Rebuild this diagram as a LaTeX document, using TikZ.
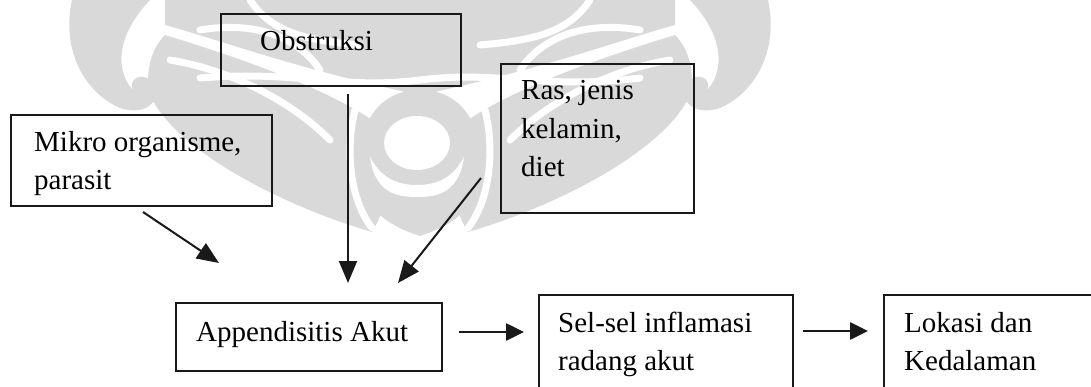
\documentclass[tikz,border=0pt]{standalone}
\usepackage{fontspec}
\setmainfont{Liberation Serif}
\usetikzlibrary{arrows.meta}
\definecolor{wm}{RGB}{217,217,217}
\definecolor{ink}{RGB}{25,25,25}
\tikzset{
  box/.style={draw=ink, line width=2pt, rectangle, inner sep=0pt, anchor=north west},
  lbl/.style={anchor=base west, inner sep=0pt, font=\fontsize{29}{38}\selectfont, text=black},
  arr/.style={draw=ink, line width=2pt, -{Triangle[length=22pt,width=18pt]}},
  harr/.style={draw=ink, line width=2.6pt, -{Triangle[length=18pt,width=17pt]}},
  wmband/.style={draw=white, line width=7pt, line cap=round},
}
\begin{document}
\begin{tikzpicture}[x=1pt,y=-1pt]
\path[use as bounding box, clip] (0,0) rectangle (1091,387);
\fill[white] (0,0) rectangle (1091,387);
% ---- watermark (approximate) ----
\foreach \s in {1,-1}{
\begin{scope}[shift={(420,0)}, xscale=\s, shift={(-420,0)}]
  \fill[wm] (72,0) .. controls (62,45) and (80,90) .. (120,108) .. controls (150,118) and (165,95) .. (150,80)
     .. controls (140,72) and (128,80) .. (133,90) .. controls (118,75) and (112,40) .. (150,0) -- cycle;
  \fill[wm] (150,95) .. controls (175,150) and (280,205) .. (372,232) .. controls (392,200) and (392,160) .. (372,120)
     .. controls (320,85) and (230,55) .. (165,35) .. controls (150,50) and (145,75) .. cycle;
  \fill[wm] (165,0) -- (420,0) -- (420,95) .. controls (300,70) and (220,40) .. (165,25) -- cycle;
  \draw[wmband] (170,60) .. controls (230,70) and (290,100) .. (330,140);
  \draw[wmband] (200,30) .. controls (260,20) and (300,40) .. (320,70);
  \draw[wmband] (250,0) .. controls (270,30) and (300,40) .. (360,45);
  \draw[wmband] (355,110) .. controls (345,150) and (350,200) .. (372,228);
\end{scope}}
\draw[wmband] (200,78) .. controls (300,70) and (340,90) .. (420,80) .. controls (500,70) and (540,90) .. (640,78);
\fill[wm] (420,90) .. controls (480,90) and (488,160) .. (478,190) .. controls (468,215) and (445,228) .. (420,236)
   .. controls (395,228) and (372,215) .. (362,190) .. controls (352,160) and (360,90) .. (420,90) -- cycle;
\fill[white] (417,143) ellipse [x radius=33, y radius=27];
\fill[white] (370,157) .. controls (375,195) and (400,197) .. (417,197) .. controls (434,197) and (459,195) .. (464,157)
   .. controls (452,180) and (434,185) .. (417,185) .. controls (400,185) and (382,180) .. (370,157) -- cycle;
% ---- boxes ----
\node[box, minimum width=240pt, minimum height=72pt] (obs) at (220,13) {};
\node[box, minimum width=261pt, minimum height=91pt] (mik) at (10,114) {};
\node[box, minimum width=193pt, minimum height=149pt] (ras) at (500,63) {};
\node[box, minimum width=266pt, minimum height=68pt] (app) at (175,302) {};
\node[box, minimum width=254pt, minimum height=110pt] (sel) at (538,294) {};
\node[box, minimum width=230pt, minimum height=110pt] (lok) at (883,294) {};
% ---- labels ----
\node[lbl] (tobs) at (260,51) {Obstruksi};
\node[lbl] (tmik1) at (34,152) {Mikro organisme,};
\node[lbl] (tmik2) at (34,190) {parasit};
\node[lbl] (tras1) at (521,100) {Ras, jenis};
\node[lbl] (tras2) at (521,139) {kelamin,};
\node[lbl] (tras3) at (521,177) {diet};
\node[lbl] (tapp) at (196,341) {Appendisitis Akut};
\node[lbl] (tsel1) at (558,332) {Sel-sel inflamasi};
\node[lbl] (tsel2) at (558,370) {radang akut};
\node[lbl] (tlok1) at (904,332) {Lokasi dan};
\node[lbl] (tlok2) at (904,370) {Kedalaman};
% ---- connector end points ----
\coordinate (m1) at (143,212);
\coordinate (m2) at (219,263);
\coordinate (o1) at (348,94);
\coordinate (o2) at (348,283);
\coordinate (r1) at (481,178);
\coordinate (r2) at (398,283);
\coordinate (a1) at (459,332);
\coordinate (a2) at (524,332);
\coordinate (s1) at (803,331);
\coordinate (s2) at (868,331);
\draw[arr] (m1) -- (m2);
\draw[arr] (o1) -- (o2);
\draw[arr] (r1) -- (r2);
\draw[harr] (a1) -- (a2);
\draw[harr] (s1) -- (s2);
\end{tikzpicture}
\end{document}
